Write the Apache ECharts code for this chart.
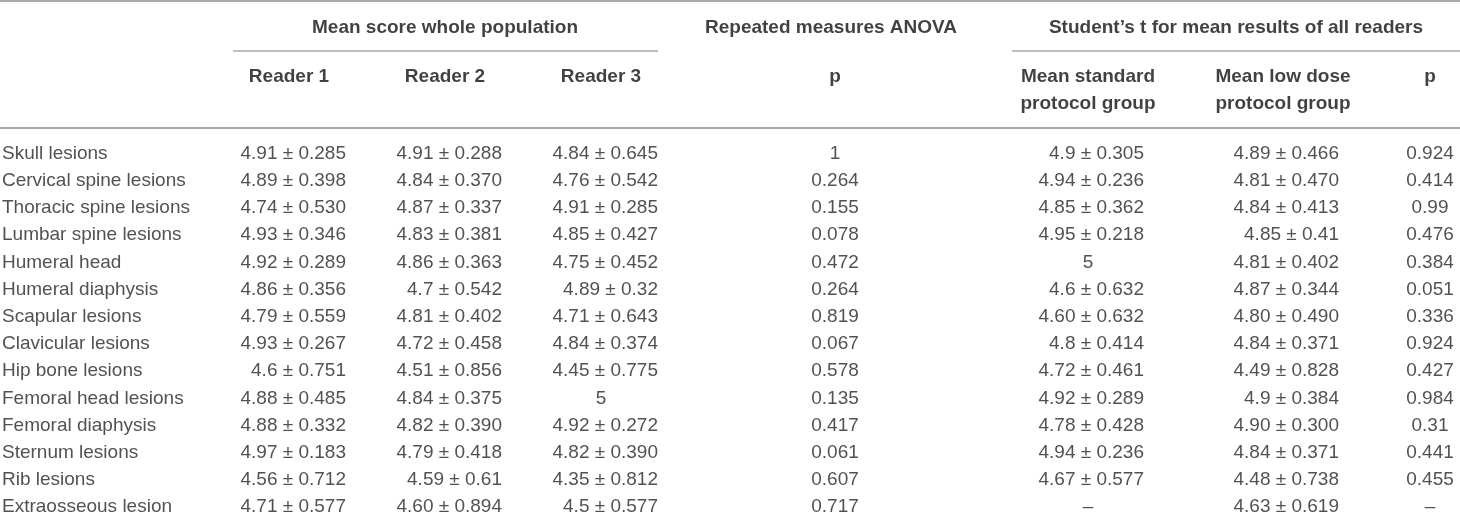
<!DOCTYPE html>
<html>
<head>
<meta charset="utf-8">
<script src="https://cdn.jsdelivr.net/npm/echarts@6/dist/echarts.min.js"></script>
<style>
  html, body { margin: 0; padding: 0; background: #fff; }
  #main { width: 1460px; height: 518px; }
</style>
</head>
<body>
<div id="main"></div>
<script>
// table content
var rowLabels = ['Skull lesions', 'Cervical spine lesions', 'Thoracic spine lesions', 'Lumbar spine lesions',
  'Humeral head', 'Humeral diaphysis', 'Scapular lesions', 'Clavicular lesions', 'Hip bone lesions',
  'Femoral head lesions', 'Femoral diaphysis', 'Sternum lesions', 'Rib lesions', 'Extraosseous lesion'];
var reader1 = ['4.91 ± 0.285', '4.89 ± 0.398', '4.74 ± 0.530', '4.93 ± 0.346', '4.92 ± 0.289', '4.86 ± 0.356',
  '4.79 ± 0.559', '4.93 ± 0.267', '4.6 ± 0.751', '4.88 ± 0.485', '4.88 ± 0.332', '4.97 ± 0.183',
  '4.56 ± 0.712', '4.71 ± 0.577'];
var reader2 = ['4.91 ± 0.288', '4.84 ± 0.370', '4.87 ± 0.337', '4.83 ± 0.381', '4.86 ± 0.363', '4.7 ± 0.542',
  '4.81 ± 0.402', '4.72 ± 0.458', '4.51 ± 0.856', '4.84 ± 0.375', '4.82 ± 0.390', '4.79 ± 0.418',
  '4.59 ± 0.61', '4.60 ± 0.894'];
var reader3 = ['4.84 ± 0.645', '4.76 ± 0.542', '4.91 ± 0.285', '4.85 ± 0.427', '4.75 ± 0.452', '4.89 ± 0.32',
  '4.71 ± 0.643', '4.84 ± 0.374', '4.45 ± 0.775', '5', '4.92 ± 0.272', '4.82 ± 0.390',
  '4.35 ± 0.812', '4.5 ± 0.577'];
var anovaP = ['1', '0.264', '0.155', '0.078', '0.472', '0.264', '0.819', '0.067', '0.578', '0.135', '0.417',
  '0.061', '0.607', '0.717'];
var meanStandard = ['4.9 ± 0.305', '4.94 ± 0.236', '4.85 ± 0.362', '4.95 ± 0.218', '5', '4.6 ± 0.632',
  '4.60 ± 0.632', '4.8 ± 0.414', '4.72 ± 0.461', '4.92 ± 0.289', '4.78 ± 0.428', '4.94 ± 0.236',
  '4.67 ± 0.577', '–'];
var meanLowDose = ['4.89 ± 0.466', '4.81 ± 0.470', '4.84 ± 0.413', '4.85 ± 0.41', '4.81 ± 0.402', '4.87 ± 0.344',
  '4.80 ± 0.490', '4.84 ± 0.371', '4.49 ± 0.828', '4.9 ± 0.384', '4.90 ± 0.300', '4.84 ± 0.371',
  '4.48 ± 0.738', '4.63 ± 0.619'];
var tTestP = ['0.924', '0.414', '0.99', '0.476', '0.384', '0.051', '0.336', '0.924', '0.427', '0.984', '0.31',
  '0.441', '0.455', '–'];
var groupHeaders = ['Mean score whole population', 'Repeated measures ANOVA', 'Student’s t for mean results of all readers'];
var columnHeaders = ['Reader 1', 'Reader 2', 'Reader 3', 'p', 'Mean standard\nprotocol group', 'Mean low dose\nprotocol group', 'p'];

// layout (pixel units on the hidden axes)
var W = 1460, H = 518;
var rowTop = 153.5, rowStep = 27.2;
var columns = [
  { values: reader1, center: 289, right: 346 },
  { values: reader2, center: 445, right: 502 },
  { values: reader3, center: 601, right: 658 },
  { values: anovaP, center: 835 },
  { values: meanStandard, center: 1088, right: 1144 },
  { values: meanLowDose, center: 1283, right: 1339 },
  { values: tTestP, center: 1430 }
];
var groupCenters = [445, 831, 1236];
var bodyFont = { fontFamily: 'Liberation Sans', fontSize: 19, color: '#262626' };
var headFont = { fontFamily: 'Liberation Sans', fontSize: 19, fontWeight: 'bold', color: '#111111' };

function rowY(i) { return rowTop + i * rowStep; }

function textSeries(data, font) {
  return {
    type: 'scatter',
    symbolSize: 0,
    silent: true,
    data: data,
    label: Object.assign({
      show: true,
      position: 'inside',
      verticalAlign: 'middle',
      lineHeight: 27,
      formatter: function (p) { return p.name; }
    }, font)
  };
}

var series = [];

// row labels
series.push(textSeries(rowLabels.map(function (t, i) {
  return { name: t, value: [2, rowY(i)], label: { align: 'left' } };
}), bodyFont));

// value columns: "mean ± sd" right-aligned, single values centred
columns.forEach(function (col) {
  series.push(textSeries(col.values.map(function (t, i) {
    var pm = col.right && t.indexOf('±') >= 0;
    return {
      name: t,
      value: [pm ? col.right : col.center, rowY(i)],
      label: { align: pm ? 'right' : 'center' }
    };
  }), bodyFont));
});

// headers
series.push(textSeries(groupHeaders.map(function (t, i) {
  return { name: t, value: [groupCenters[i], 28], label: { align: 'center' } };
}), headFont));
series.push(textSeries(columnHeaders.map(function (t, i) {
  var twoLines = t.indexOf('\n') >= 0;
  return { name: t, value: [columns[i].center, twoLines ? 90.5 : 77], label: { align: 'center' } };
}), headFont));

// rules
function rule(x1, x2, y, w, c) {
  return [{ coord: [x1, y], lineStyle: { width: w, color: c, type: 'solid' } }, { coord: [x2, y] }];
}
series.push({
  type: 'scatter',
  symbolSize: 0,
  silent: true,
  data: [],
  markLine: {
    silent: true,
    symbol: ['none', 'none'],
    label: { show: false },
    animation: false,
    data: [
      rule(0, W, 0.8, 1.5, '#8c8c8c'),
      rule(233, 658, 50.7, 1.5, '#a8a8a8'),
      rule(1012, W, 50.7, 1.5, '#a8a8a8'),
      rule(0, W, 127.7, 2, '#a8a8a8')
    ]
  }
});

var chart = echarts.init(document.getElementById('main'));
chart.setOption({
  backgroundColor: '#fff',
  animation: false,
  grid: { left: 0, right: 0, top: 0, bottom: 0 },
  xAxis: { type: 'value', min: 0, max: W, show: false },
  yAxis: { type: 'value', min: 0, max: H, inverse: true, show: false },
  series: series
});
</script>
</body>
</html>
